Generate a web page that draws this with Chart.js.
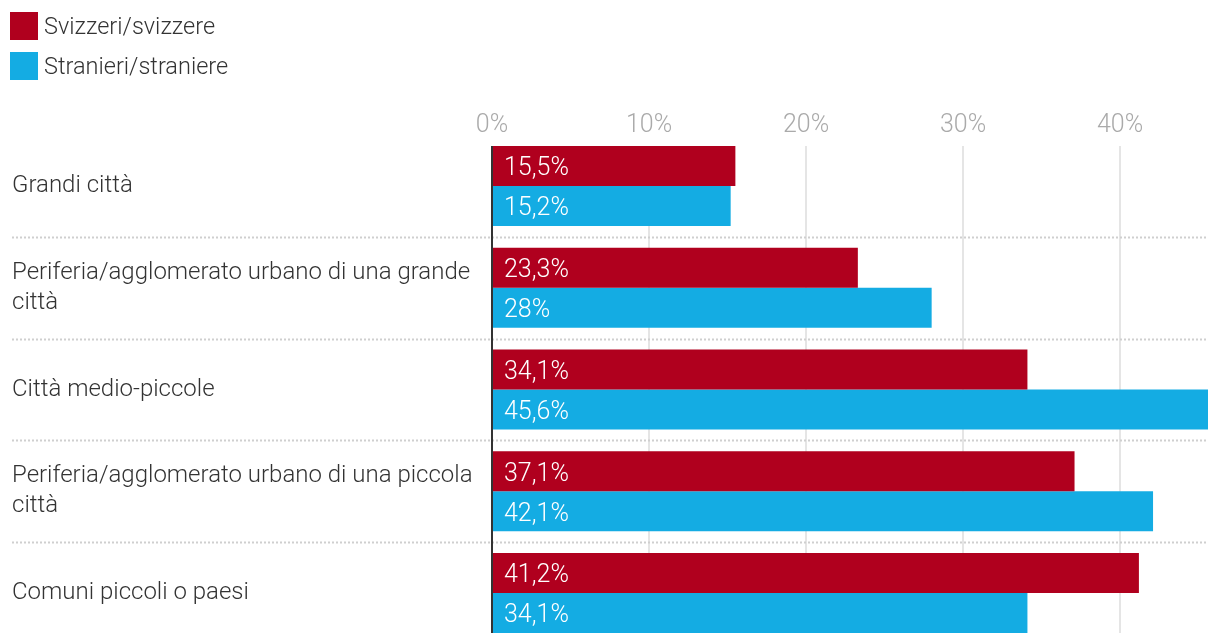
<!DOCTYPE html>
<html>
<head>
<meta charset="utf-8">
<script src="https://cdn.jsdelivr.net/npm/chart.js@4/dist/chart.umd.min.js"></script>
<style>
  html, body { margin: 0; padding: 0; background: #fff; }
  #wrap { position: relative; width: 1220px; height: 644px; }
  #legend { position: absolute; left: 10px; top: 12px; font-family: Roboto, sans-serif; font-weight: 300; font-size: 23.5px; color: #333; }
  .item { display: flex; align-items: center; height: 28px; margin-bottom: 12px; }
  .sw { width: 28px; height: 28px; margin-right: 6px; }
</style>
</head>
<body>
<div id="wrap">
  <canvas id="chart" width="1220" height="644"></canvas>
  <div id="legend"></div>
</div>
<script>
/* data */
const categories = [
  'Grandi città',
  ['Periferia/agglomerato urbano di una grande', 'città'],
  'Città medio-piccole',
  ['Periferia/agglomerato urbano di una piccola', 'città'],
  'Comuni piccoli o paesi',
];
const seriesNames = ['Svizzeri/svizzere', 'Stranieri/straniere'];
const svizzeri   = [15.5, 23.3, 34.1, 37.1, 41.2];
const stranieri  = [15.2, 28, 45.6, 42.1, 34.1];
const xTicks     = [0, 10, 20, 30, 40];

const RED  = '#b0001e';
const BLUE = '#14ace3';
const FONT = 'Roboto, sans-serif';
const CAT_PCT = 0.786;

// html legend
document.getElementById('legend').innerHTML = seriesNames.map((n, i) =>
  `<div class="item"><span class="sw" style="background:${[RED, BLUE][i]}"></span>${n}</div>`
).join('');

const fmt = v => v.toLocaleString('it-IT') + '%';

// grid lines, category separators, zero line, value labels
const decor = {
  id: 'decor',
  beforeDatasetsDraw(chart) {
    const { ctx, chartArea, scales: { x, y } } = chart;
    const step = (chartArea.bottom - chartArea.top) / categories.length;
    const inset = step * (1 - CAT_PCT) / 2;
    ctx.save();
    // vertical grid
    ctx.strokeStyle = '#e5e5e5';
    ctx.lineWidth = 2;
    xTicks.slice(1).forEach(t => {
      const px = Math.round(x.getPixelForValue(t));
      ctx.beginPath();
      ctx.moveTo(px, chartArea.top + inset);
      ctx.lineTo(px, chartArea.bottom - inset);
      ctx.stroke();
    });
    // dotted separators between categories
    ctx.strokeStyle = '#cfcfcf';
    ctx.setLineDash([2, 2]);
    for (let i = 1; i < categories.length; i++) {
      const py = Math.round(y.getPixelForValue(i) - step / 2) + 0.5;
      ctx.beginPath();
      ctx.moveTo(12, py);
      ctx.lineTo(chartArea.right, py);
      ctx.stroke();
    }
    ctx.restore();
  },
  afterDatasetsDraw(chart) {
    const { ctx, chartArea, scales: { x } } = chart;
    const step = (chartArea.bottom - chartArea.top) / categories.length;
    const inset = step * (1 - CAT_PCT) / 2;
    ctx.save();
    // zero axis
    ctx.strokeStyle = '#333';
    ctx.lineWidth = 2;
    const x0 = x.getPixelForValue(0);
    ctx.beginPath();
    ctx.moveTo(x0, chartArea.top + inset);
    ctx.lineTo(x0, chartArea.bottom - inset);
    ctx.stroke();
    // value labels
    ctx.fillStyle = '#fff';
    ctx.font = '300 25px ' + FONT;
    ctx.textAlign = 'left';
    ctx.textBaseline = 'middle';
    chart.data.datasets.forEach((ds, di) => {
      chart.getDatasetMeta(di).data.forEach((bar, i) => {
        ctx.fillText(fmt(ds.data[i]), bar.base + 12, bar.y + 3);
      });
    });
    ctx.restore();
  }
};

new Chart(document.getElementById('chart'), {
  type: 'bar',
  data: {
    labels: categories,
    datasets: [
      { label: seriesNames[0], data: svizzeri,  backgroundColor: RED },
      { label: seriesNames[1], data: stranieri, backgroundColor: BLUE },
    ],
  },
  options: {
    indexAxis: 'y',
    responsive: false,
    animation: false,
    categoryPercentage: CAT_PCT,
    barPercentage: 1,
    layout: { padding: { top: 100, left: 12, right: 12, bottom: 0 } },
    plugins: { legend: { display: false }, tooltip: { enabled: false } },
    scales: {
      x: {
        position: 'top',
        min: 0,
        max: Math.max(...svizzeri, ...stranieri),
        afterBuildTicks: s => { s.ticks = xTicks.map(v => ({ value: v })); },
        afterFit: s => { s.height = 35; s.paddingLeft = 0; s.paddingRight = 0; },
        grid: { display: false },
        border: { display: false },
        ticks: {
          padding: -14,
          color: '#aaa',
          font: { family: FONT, size: 25, weight: '300' },
          callback: v => v + '%',
        },
      },
      y: {
        afterFit: s => { s.width = 480; s.paddingTop = 0; s.paddingBottom = 0; },
        grid: { display: false },
        border: { display: false },
        ticks: {
          crossAlign: 'far',
          color: '#333',
          font: { family: FONT, size: 24, weight: '300', lineHeight: 1.25 },
        },
      },
    },
  },
  plugins: [decor],
});
</script>
</body>
</html>
